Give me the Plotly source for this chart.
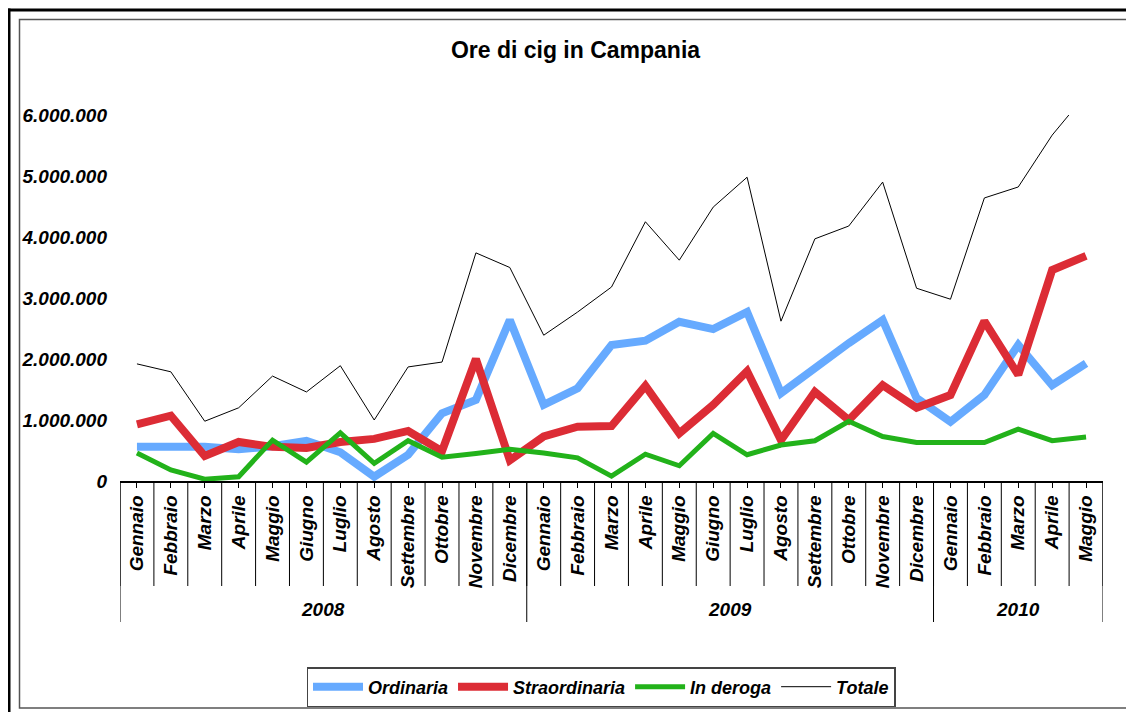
import plotly.graph_objects as go

# ---------------- data ----------------
months = ["Gennaio", "Febbraio", "Marzo", "Aprile", "Maggio", "Giugno", "Luglio",
          "Agosto", "Settembre", "Ottobre", "Novembre", "Dicembre"]
years = ["2008", "2009", "2010"]
months_per_year = [12, 12, 5]
categories = months * 2 + months[:5]

ordinaria = [0.56, 0.57, 0.56, 0.52, 0.57, 0.66, 0.47, 0.07, 0.43, 1.11, 1.33, 2.64,
             1.25, 1.52, 2.23, 2.30, 2.61, 2.49, 2.77, 1.44, 1.87, 2.26, 2.64, 1.36,
             0.97, 1.41, 2.23, 1.57, 1.93]
straordinaria = [0.93, 1.07, 0.41, 0.64, 0.56, 0.54, 0.64, 0.69, 0.82, 0.49, 2.00, 0.34,
                 0.73, 0.89, 0.90, 1.56, 0.78, 1.25, 1.80, 0.67, 1.46, 1.00, 1.57, 1.20,
                 1.41, 2.62, 1.74, 3.46, 3.69]
in_deroga = [0.46, 0.18, 0.03, 0.07, 0.67, 0.31, 0.79, 0.29, 0.66, 0.39, 0.45, 0.52,
             0.46, 0.38, 0.08, 0.44, 0.25, 0.78, 0.43, 0.59, 0.66, 0.98, 0.73, 0.63,
             0.63, 0.63, 0.85, 0.66, 0.72]
totale = [1.92, 1.79, 0.98, 1.20, 1.72, 1.46, 1.89, 1.00, 1.87, 1.95, 3.74, 3.50,
          2.39, 2.77, 3.18, 4.25, 3.62, 4.49, 4.98, 2.62, 3.97, 4.18, 4.90, 3.16,
          2.98, 4.64, 4.82, 5.67, 6.34]
series_scale = 1_000_000

y_tickvals = [0, 1_000_000, 2_000_000, 3_000_000, 4_000_000, 5_000_000, 6_000_000]
y_ticktext = ["0", "1.000.000", "2.000.000", "3.000.000", "4.000.000", "5.000.000", "6.000.000"]

# ---------------- layout constants ----------------
OFF = 8                      # page body margin
W, H = 1134 - OFF, 712 - OFF
ML = 120 - OFF
MR = W - (1103 - OFF)
MT = 115 - OFF
MB = H - (481 - OFF)
PW, PH = W - ML - MR, H - MT - MB
FONT = "Arial, 'Liberation Sans', sans-serif"


def px_x(px):
    return (px - OFF - ML) / PW


def px_y(py):
    return (H - MB - (py - OFF)) / PH


x = list(range(len(categories)))

fig = go.Figure()
specs = [
    ("Ordinaria", ordinaria, "#66AAFF", 8),
    ("Straordinaria", straordinaria, "#DC2C35", 8),
    ("In deroga", in_deroga, "#22B21A", 5),
    ("Totale", totale, "#000000", 1),
]
for name, vals, color, w in specs:
    fig.add_trace(go.Scatter(
        x=x, y=[v * series_scale for v in vals], mode="lines", name=name,
        line=dict(color=color, width=w), hoverinfo="skip"))

shapes = []
n = len(categories)
# month dividers
for i in range(n + 1):
    shapes.append(dict(type="line", xref="x", yref="paper", x0=i - 0.5, x1=i - 0.5,
                       y0=0, y1=px_y(586), line=dict(color="#000000", width=1)))
# year dividers
start = 0
year_centers = []
bounds = [0]
for m in months_per_year:
    year_centers.append(start + (m - 1) / 2)
    start += m
    bounds.append(start)
for b in bounds:
    shapes.append(dict(type="line", xref="x", yref="paper", x0=b - 0.5, x1=b - 0.5,
                       y0=0, y1=px_y(622), line=dict(color="#000000", width=1)))
# inner frame
shapes.append(dict(type="rect", xref="paper", yref="paper",
                   x0=px_x(19.5), x1=px_x(1131.5), y0=px_y(708), y1=px_y(19.5),
                   line=dict(color="#555555", width=1.5)))
# outer thick frame (left & top)
shapes.append(dict(type="line", xref="paper", yref="paper",
                   x0=px_x(9), x1=px_x(9), y0=px_y(730), y1=px_y(8.5),
                   line=dict(color="#000000", width=3)))
shapes.append(dict(type="line", xref="paper", yref="paper",
                   x0=px_x(7.5), x1=px_x(1140), y0=px_y(10), y1=px_y(10),
                   line=dict(color="#000000", width=3)))

annotations = []
for yr, c in zip(years, year_centers):
    annotations.append(dict(x=c, y=px_y(609), xref="x", yref="paper", text=yr,
                            showarrow=False, xanchor="center", yanchor="middle",
                            font=dict(family=FONT, size=19, color="#000000",
                                      weight="bold", style="italic")))

fig.update_layout(
    width=W, height=H,
    margin=dict(l=ML, r=MR, t=MT, b=MB, autoexpand=False),
    paper_bgcolor="white", plot_bgcolor="white",
    title=dict(text="<b>Ore di cig in Campania</b>", x=(575.5 - OFF) / W, xanchor="center",
               y=1 - (50 - OFF) / H, yanchor="middle",
               font=dict(family=FONT, size=23, color="#000000")),
    xaxis=dict(range=[-0.5, n - 0.5], tickvals=x, ticktext=categories, tickangle=-90,
               showgrid=False, zeroline=False, showline=True, linecolor="#000000",
               linewidth=1.5, ticks="outside", ticklen=5, tickcolor="#000000",
               tickfont=dict(family=FONT, size=19, color="#000000",
                             weight="bold", style="italic")),
    yaxis=dict(range=[0, 6_000_000], tickvals=y_tickvals, ticktext=y_ticktext,
               showgrid=False, zeroline=False, showline=False, ticks="",
               ticklabelstandoff=12,
               tickfont=dict(family=FONT, size=19, color="#000000",
                             weight="bold", style="italic")),
    legend=dict(orientation="h", x=px_x(601), xanchor="center", y=px_y(667),
                yanchor="top", bordercolor="#444444", borderwidth=1.5,
                bgcolor="white", itemwidth=50, tracegroupgap=0,
                font=dict(family=FONT, size=18, color="#000000",
                          weight="bold", style="italic")),
    shapes=shapes, annotations=annotations,
    showlegend=True,
)

fig.write_html("out.html")
